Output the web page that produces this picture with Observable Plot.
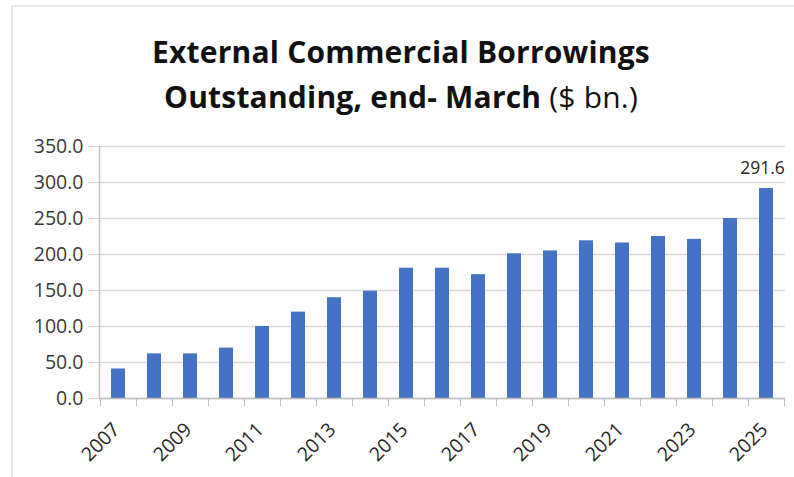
<!DOCTYPE html>
<html>
<head>
<meta charset="utf-8">
<script src="https://cdn.jsdelivr.net/npm/d3@7"></script>
<script src="https://cdn.jsdelivr.net/npm/@observablehq/plot@0.6"></script>
<style>
  body { margin: 0; background: #fff; font-family: "Open Sans", sans-serif; }
  #wrap { position: relative; width: 794px; height: 477px; overflow: hidden; }
  #frame { position: absolute; left: 11px; top: 5px; width: 820px; height: 500px;
           border-left: 2px solid #e8e8e8; border-top: 2px solid #e8e8e8; box-sizing: border-box; }
  #title { position: relative; height: 130px; box-sizing: border-box; padding-top: 29px;
           padding-left: 8px; text-align: center; font-size: 30px; line-height: 45px;
           letter-spacing: 0.2px; color: #111; font-weight: 700; }
  #title .n { font-weight: 400; }
  #chart { position: relative; }
</style>
</head>
<body>
<div id="wrap">
  <div id="frame"></div>
  <div id="title">External Commercial Borrowings<br>Outstanding, end- March <span class="n">($ bn.)</span></div>
  <div id="chart"></div>
</div>
<script>
const years = ["2007","2008","2009","2010","2011","2012","2013","2014","2015","2016",
               "2017","2018","2019","2020","2021","2022","2023","2024","2025"];
const values = [41, 62, 62, 70, 100, 120, 140, 149, 181, 181,
                172, 201, 205, 219, 216, 225, 221, 250, 291.6];
const yTicks = [0, 50, 100, 150, 200, 250, 300, 350];
const xLabels = ["2007","2009","2011","2013","2015","2017","2019","2021","2023","2025"];
const labelYear = "2025";
const labelValue = 291.6;

const data = years.map((y, i) => ({year: y, value: values[i]}));

const W = 794, H = 347, mL = 99, mR = 9, mT = 16, mB = 79;
const half = (W - mL - mR) / years.length / 2;

const chart = Plot.plot({
  width: W, height: H,
  marginLeft: mL, marginRight: mR, marginTop: mT, marginBottom: mB,
  style: { fontFamily: "'Open Sans', sans-serif", background: "transparent", overflow: "visible" },
  x: { domain: years, paddingInner: 0.6, paddingOuter: 0.3, label: null },
  y: { domain: [0, 350], label: null },
  marks: [
    Plot.gridY(yTicks, { stroke: "#d9d9d9", strokeOpacity: 1, strokeWidth: 1.5 }),
    Plot.axisY({ ticks: yTicks, tickSize: 10, tickPadding: 6, stroke: "#d0d0d0",
                 fill: "#3a3a3a", fontSize: 19.5, tickFormat: d => d.toFixed(1), label: null }),
    Plot.axisX({ ticks: years, tickSize: 8, tickFormat: () => "", dx: -half,
                 stroke: "#bdbdbd", label: null }),
    Plot.axisX({ ticks: [years[years.length - 1]], tickSize: 8, tickFormat: () => "", dx: half,
                 stroke: "#bdbdbd", label: null }),
    Plot.axisX({ ticks: xLabels, tickSize: 0, tickPadding: 28, tickRotate: -45,
                 fontSize: 19.5, fill: "#262626", dx: -2, label: null }),
    Plot.barY(data, { x: "year", y: "value", fill: "#4472C4" }),
    Plot.ruleY([0], { stroke: "#bdbdbd", strokeWidth: 1.5 }),
    Plot.frame({ anchor: "left", stroke: "#c4c4c4", strokeWidth: 1.5 }),
    Plot.text([{year: labelYear, value: labelValue}], { x: "year", y: "value", text: d => d.value.toFixed(1),
                 dy: -20, dx: -4, fontSize: 17.5, fill: "#262626" })
  ]
});
document.getElementById("chart").appendChild(chart);
</script>
</body>
</html>
